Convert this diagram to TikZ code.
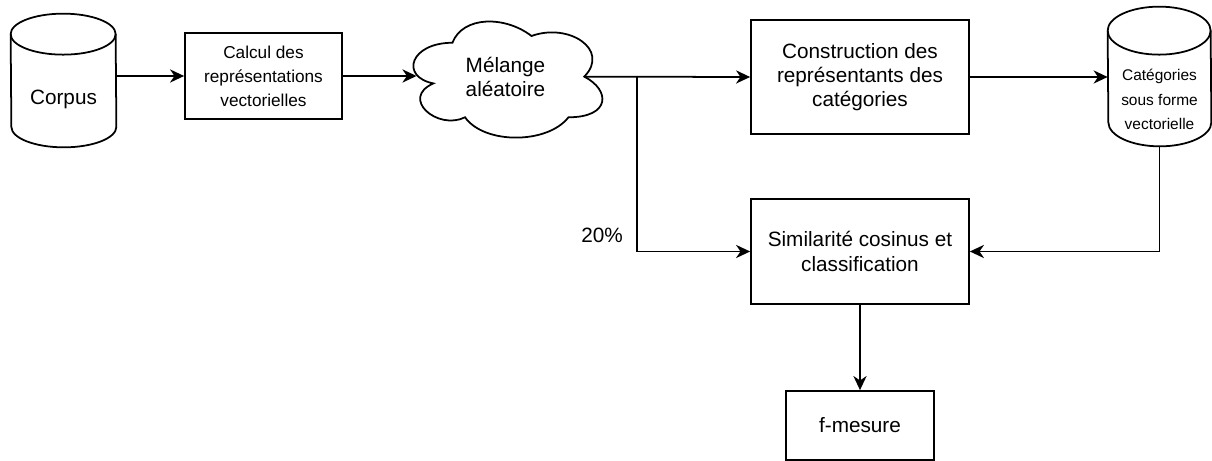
\documentclass[tikz,border=0pt]{standalone}
\usepackage{fontspec}
\setmainfont{Liberation Sans}
\usetikzlibrary{arrows.meta,calc}
\def\tankoutline(#1)(#2:#3){\draw[thickline] ([yshift=-#3]#1.north west) arc (180:0:#2 and #3) -- ([yshift=#3]#1.south east) arc (0:-180:#2 and #3) -- cycle; \draw[thickline] ([yshift=-#3]#1.north west) arc (180:360:#2 and #3);}
\tikzset{
	thickline/.style={line width=1pt},
	arrow/.style={thickline, -{Stealth[length=8pt,width=7.5pt,inset=2.5pt]}},
	bigtext/.style={font=\fontsize{11.8}{13.8}\selectfont},
	box/.style={draw, thickline, rectangle, align=center, inner sep=0pt, bigtext},
	tank/.style={rectangle, inner sep=0pt},
	blob/.style={rectangle, inner sep=0pt, align=center, bigtext}
}

\begin{document}
\begin{tikzpicture}
		%%%%% START %%%%%
		\useasboundingbox (0, 0) rectangle (24.24, -9.22);
		
		\node[tank, minimum width=2.1cm, minimum height=2.66cm] (corpus) at (1.27, -1.61) {};
		\tankoutline(corpus)(1.05cm:0.41cm)
		\node[bigtext] (corpus-text) at ([yshift=-0.38cm]corpus.center) {Corpus};
		
		\node[box, minimum width=3.14cm, minimum height=1.72cm, font=\fontsize{9.8}{13.6}\selectfont] (calcul) at (5.27, -1.52) {Calcul des\\représentations\\vectorielles};
		
		\node[blob, minimum width=4.22cm, minimum height=2.71cm] (melange) at (10.11, -1.54) {Mélange\\aléatoire};
		\begin{scope}[shift={(melange.north west)}, x=4.22cm, y=-2.71cm]
			\draw[thickline] (0.25, 0.25) .. controls (0.05, 0.25) and (0, 0.5) .. (0.16, 0.55) .. controls (0, 0.66) and (0.18, 0.9) .. (0.31, 0.8) .. controls (0.4, 1) and (0.7, 1) .. (0.8, 0.8) .. controls (1, 0.8) and (1, 0.6) .. (0.875, 0.5) .. controls (1, 0.3) and (0.8, 0.1) .. (0.625, 0.2) .. controls (0.5, 0.05) and (0.3, 0.05) .. (0.25, 0.25) -- cycle;
			\coordinate (melange-in) at (0.08, 0.5);
			\coordinate (melange-out) at (0.875, 0.5);
		\end{scope}
		
		\node[box, minimum width=4.36cm, minimum height=2.28cm] (construction) at (17.2, -1.54) {Construction des\\représentants des\\catégories};
		
		\node[tank, minimum width=2.06cm, minimum height=2.78cm] (categories) at (23.19, -1.53) {};
		\tankoutline(categories)(1.03cm:0.48cm)
		\node[font=\fontsize{8.8}{13.9}\selectfont, align=center] (categories-text) at ([yshift=-0.46cm]categories.center) {Catégories\\sous forme\\vectorielle};
		
		\node[box, minimum width=4.36cm, minimum height=2.1cm] (similarite) at (17.2, -5.03) {Similarité cosinus et\\classification};
		\node[box, minimum width=2.96cm, minimum height=1.38cm] (fmesure) at (17.2, -8.51) {f-mesure};
		
		\node[bigtext] (part) at (12.04, -4.7) {20\%};
		
		\coordinate (split) at (12.74, -1.54);
		
		\draw[arrow] (corpus.east |- calcul.west) -- (calcul.west);
		\draw[arrow] (calcul.east) -- (calcul.east -| melange-in);
		\draw[arrow] (melange-out) -- (construction.west);
		\draw[arrow] (split) |- (similarite.west);
		\draw[arrow] (construction.east) -- (construction.east -| categories.west);
		\draw[arrow] (categories.south) |- (similarite.east);
		\draw[arrow] (similarite.south) -- (fmesure.north);
		%%%%% END %%%%%
	\end{tikzpicture}
\end{document}
